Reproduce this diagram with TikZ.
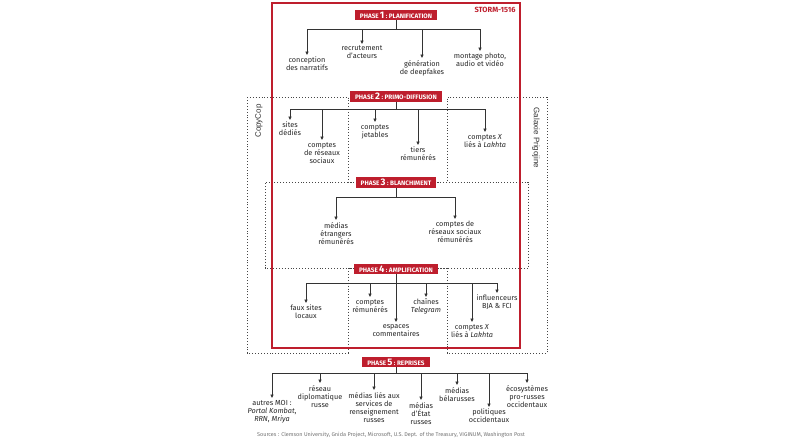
\documentclass[tikz,border=0pt]{standalone}
\usepackage{fontspec}
\setmainfont{Fira Sans}
\newfontfamily\sidefont{Liberation Sans}
\usetikzlibrary{arrows.meta}
\definecolor{stormred}{RGB}{190,30,45}
\definecolor{linegray}{RGB}{51,51,51}
\definecolor{dotgray}{RGB}{70,70,70}
\newcommand{\phasetxt}[2]{{\fontsize{6.4}{6}\selectfont PHASE\,}{\fontsize{9.5}{8}\selectfont #1}{\fontsize{6.4}{6}\selectfont\ :\ #2}}

\begin{document}
\begin{tikzpicture}[x=1pt,y=1pt,yscale=-1,xscale=1,
  leaf/.style={anchor=north,align=center,inner sep=2pt,font=\fontsize{7.3}{8}\selectfont,text=black!85},
  phase/.style={fill=stormred,text=white,font=\bfseries,inner xsep=5pt,inner ysep=1pt,minimum height=10.5pt},
  bar/.style={draw=linegray,line width=0.8pt},
  arr/.style={bar,-{Triangle[length=3.5pt,width=3.2pt]}},
  zone/.style={draw=dotgray,line width=1pt,dash pattern=on 0.9pt off 2pt}]
\useasboundingbox (0,0) rectangle (792,445);
%Dotted zones
\draw [zone] (247,97) -- (348,97) -- (348,182) -- (528,182) -- (528,268) -- (348,268) -- (348,353) -- (247,353) -- cycle;
\draw [zone] (547,97) -- (447,97) -- (447,182) -- (265,182) -- (265,268) -- (447,268) -- (447,353) -- (547,353) -- cycle;
%STORM-1516 frame
\draw [stormred,line width=1.3pt] (272,3) rectangle (520,348);
% Text Node
\node [anchor=east,text=stormred,font=\bfseries\fontsize{7.5}{8}\selectfont] (storm) at (519,10) {STORM-1516};
\node [rotate=90,font=\sidefont\fontsize{8}{8}\selectfont,text=black!80] (copycop) at (259,121) {CopyCop};
\node [rotate=-90,font=\sidefont\fontsize{8}{8}\selectfont,text=black!80] (prigo) at (536,138) {Galaxie Prigojine};

%Phase 1
\node [phase] (p1) at (396,15) {\phasetxt{1}{PLANIFICATION}};
\coordinate (j1) at (396,29);
\node [leaf] (concep) at (307,55) {conception\\des narratifs};
\node [leaf] (recrut) at (362,44) {recrutement\\d'acteurs};
\node [leaf] (genera) at (422,58) {génération\\de deepfakes};
\node [leaf] (montage) at (480,51) {montage photo,\\audio et vidéo};
\draw [bar] (p1) -- (j1);
\draw [bar] (concep |- j1) -- (montage |- j1);
\foreach \n in {concep,recrut,genera,montage} \draw [arr] (\n |- j1) -- (\n);

%Phase 2
\node [phase] (p2) at (396,96.5) {\phasetxt{2}{PRIMO-DIFFUSION}};
\coordinate (j2) at (396,109);
\node [leaf] (sites) at (290,120) {sites\\dédiés};
\node [leaf] (crs2) at (322,140) {comptes\\de réseaux\\sociaux};
\node [leaf] (jetab) at (375,122) {comptes\\jetables};
\node [leaf] (tiers) at (418,145) {tiers\\rémunérés};
\node [leaf] (lakhta2) at (485,132) {comptes \textit{X}\\liés à \textit{Lakhta}};
\draw [bar] (p2) -- (j2);
\draw [bar] (sites |- j2) -- (lakhta2 |- j2);
\foreach \n in {sites,crs2,jetab,tiers,lakhta2} \draw [arr] (\n |- j2) -- (\n);

%Phase 3
\node [phase] (p3) at (396,182.5) {\phasetxt{3}{BLANCHIMENT}};
\coordinate (j3) at (396,197);
\node [leaf] (medetr) at (336,220) {médias\\étrangers\\rémunérés};
\node [leaf] (crs3) at (455,219) {comptes de\\réseaux sociaux\\rémunérés};
\draw [bar] (p3) -- (j3);
\draw [bar] (medetr |- j3) -- (crs3 |- j3);
\foreach \n in {medetr,crs3} \draw [arr] (\n |- j3) -- (\n);

%Phase 4
\node [phase] (p4) at (396,269) {\phasetxt{4}{AMPLIFICATION}};
\coordinate (j4) at (396,283);
\node [leaf] (fauxs) at (306,303) {faux sites\\locaux};
\node [leaf] (crem) at (370,297) {comptes\\rémunérés};
\node [leaf] (espac) at (396,322) {espaces\\commentaires};
\node [leaf] (telegr) at (426,297) {chaînes\\\textit{Telegram}};
\node [leaf] (lakhta4) at (472,322) {comptes \textit{X}\\liés à \textit{Lakhta}};
\node [leaf] (influ) at (497,293) {influenceurs\\BJA \& FCI};
\draw [arr] (p4) -- (espac);
\draw [bar] (fauxs |- j4) -- (influ |- j4);
\foreach \n in {fauxs,crem,telegr,lakhta4,influ} \draw [arr] (\n |- j4) -- (\n);

%Phase 5
\node [phase] (p5) at (396,362) {\phasetxt{5}{REPRISES}};
\coordinate (j5) at (396,373);
\node [leaf] (moi) at (272,398) {autres MOI :\\\textit{Portal Kombat},\\\textit{RRN}, \textit{Mriya}};
\node [leaf] (diplo) at (320,383) {réseau\\diplomatique\\russe};
\node [leaf] (rens) at (374,390) {médias liés aux\\services de\\renseignement\\russes};
\node [leaf] (etat) at (421,400) {médias\\d'État\\russes};
\node [leaf] (belar) at (457,385) {médias\\bélarusses};
\node [leaf] (polit) at (489,407) {politiques\\occidentaux};
\node [leaf] (ecosys) at (527,383) {écosystèmes\\pro-russes\\occidentaux};
\draw [bar] (p5) -- (j5);
\draw [bar] (moi |- j5) -- (ecosys |- j5);
\foreach \n in {moi,diplo,rens,etat,belar,polit,ecosys} \draw [arr] (\n |- j5) -- (\n);

% Text Node
\node [text=black!55,font=\fontsize{5.5}{6}\selectfont] (src) at (391,435) {Sources : Clemson University, Gnida Project, Microsoft, U.S. Dept. of the Treasury, VIGINUM, Washington Post};
\end{tikzpicture}
\end{document}
